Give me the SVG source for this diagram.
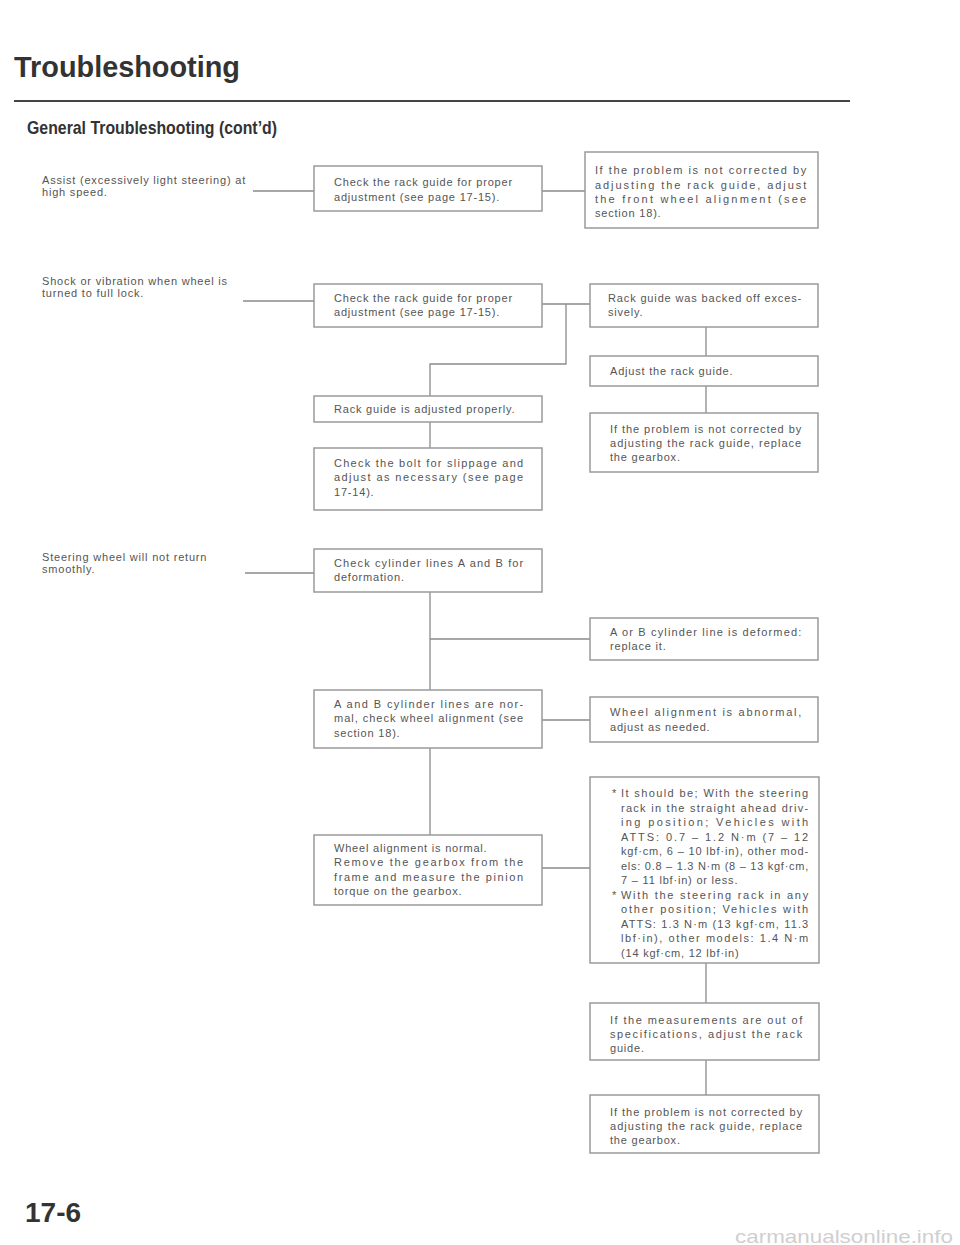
<svg xmlns="http://www.w3.org/2000/svg" width="960" height="1245" viewBox="0 0 960 1245">
<style>
.bg{fill:#ffffff}
.box{fill:#ffffff;stroke:#9a9a9a;stroke-width:1.5}
.t{font-family:"Liberation Sans",Arial,sans-serif;font-size:11px;letter-spacing:0.8px;fill:#555555}
.h{font-family:"Liberation Sans",Arial,sans-serif;font-weight:bold;fill:#333333}
.wire{fill:none;stroke:#8a8a8a;stroke-width:1.3}
.wm{font-family:"Liberation Sans",Arial,sans-serif;font-size:19px;fill:#cfcfcf}
</style>
<rect class="bg" x="0" y="0" width="960" height="1245"/>

<g id="header">
<text class="h" x="14" y="77" font-size="29" textLength="226" lengthAdjust="spacingAndGlyphs">Troubleshooting</text>
<line x1="14" y1="101" x2="850" y2="101" stroke="#444" stroke-width="2"/>
<text class="h" x="27" y="134" font-size="19" textLength="250" lengthAdjust="spacingAndGlyphs">General Troubleshooting (cont’d)</text>
</g>

<g id="connectors">
<path class="wire" d="M253,191 H314"/>
<path class="wire" d="M542,191 H585"/>
<path class="wire" d="M243,301 H314"/>
<path class="wire" d="M542,304 H590"/>
<path class="wire" d="M566,304 V364 H430 V396"/>
<path class="wire" d="M706,327 V356"/>
<path class="wire" d="M706,386 V413"/>
<path class="wire" d="M430,422 V448"/>
<path class="wire" d="M245,573 H314"/>
<path class="wire" d="M430,592 V690"/>
<path class="wire" d="M430,639 H590"/>
<path class="wire" d="M542,720 H590"/>
<path class="wire" d="M430,748 V835"/>
<path class="wire" d="M542,868 H590"/>
<path class="wire" d="M706,963 V1003"/>
<path class="wire" d="M706,1060 V1095"/>
</g>

<g id="sym1">
<text class="t" x="42" y="184">Assist (excessively light steering) at</text>
<text class="t" x="42" y="196">high speed.</text>
</g>
<g id="sym2">
<text class="t" x="42" y="285">Shock or vibration when wheel is</text>
<text class="t" x="42" y="297">turned to full lock.</text>
</g>
<g id="sym3">
<text class="t" x="42" y="561">Steering wheel will not return</text>
<text class="t" x="42" y="573">smoothly.</text>
</g>

<g id="a1">
<rect class="box" x="314" y="166" width="228" height="45"/>
<text class="t" x="334" y="186">Check the rack guide for proper</text>
<text class="t" x="334" y="201">adjustment (see page 17-15).</text>
</g>
<g id="a2">
<rect class="box" x="585" y="152" width="233" height="76"/>
<text class="t" x="595" y="174" textLength="212" lengthAdjust="spacing">If the problem is not corrected by</text>
<text class="t" x="595" y="189" textLength="212" lengthAdjust="spacing">adjusting the rack guide, adjust</text>
<text class="t" x="595" y="203" textLength="212" lengthAdjust="spacing">the front wheel alignment (see</text>
<text class="t" x="595" y="217">section 18).</text>
</g>

<g id="b1">
<rect class="box" x="314" y="284" width="228" height="43"/>
<text class="t" x="334" y="302">Check the rack guide for proper</text>
<text class="t" x="334" y="316">adjustment (see page 17-15).</text>
</g>
<g id="b2">
<rect class="box" x="590" y="284" width="228" height="43"/>
<text class="t" x="608" y="302" textLength="194" lengthAdjust="spacing">Rack guide was backed off exces-</text>
<text class="t" x="608" y="316">sively.</text>
</g>
<g id="b3">
<rect class="box" x="590" y="356" width="228" height="30"/>
<text class="t" x="610" y="375">Adjust the rack guide.</text>
</g>
<g id="b4">
<rect class="box" x="590" y="413" width="228" height="59"/>
<text class="t" x="610" y="433" textLength="192" lengthAdjust="spacing">If the problem is not corrected by</text>
<text class="t" x="610" y="447" textLength="192" lengthAdjust="spacing">adjusting the rack guide, replace</text>
<text class="t" x="610" y="461">the gearbox.</text>
</g>
<g id="b5">
<rect class="box" x="314" y="396" width="228" height="26"/>
<text class="t" x="334" y="413">Rack guide is adjusted properly.</text>
</g>
<g id="b6">
<rect class="box" x="314" y="448" width="228" height="62"/>
<text class="t" x="334" y="467" textLength="190" lengthAdjust="spacing">Check the bolt for slippage and</text>
<text class="t" x="334" y="481" textLength="190" lengthAdjust="spacing">adjust as necessary (see page</text>
<text class="t" x="334" y="496">17-14).</text>
</g>

<g id="c1">
<rect class="box" x="314" y="549" width="228" height="43"/>
<text class="t" x="334" y="567" textLength="190" lengthAdjust="spacing">Check cylinder lines A and B for</text>
<text class="t" x="334" y="581">deformation.</text>
</g>
<g id="c2">
<rect class="box" x="590" y="618" width="228" height="42"/>
<text class="t" x="610" y="636" textLength="192" lengthAdjust="spacing">A or B cylinder line is deformed:</text>
<text class="t" x="610" y="650">replace it.</text>
</g>
<g id="c3">
<rect class="box" x="314" y="690" width="228" height="58"/>
<text class="t" x="334" y="708" textLength="190" lengthAdjust="spacing">A and B cylinder lines are nor-</text>
<text class="t" x="334" y="722" textLength="190" lengthAdjust="spacing">mal, check wheel alignment (see</text>
<text class="t" x="334" y="737">section 18).</text>
</g>
<g id="c4">
<rect class="box" x="590" y="697" width="228" height="45"/>
<text class="t" x="610" y="716" textLength="192" lengthAdjust="spacing">Wheel alignment is abnormal,</text>
<text class="t" x="610" y="731">adjust as needed.</text>
</g>
<g id="c5">
<rect class="box" x="314" y="835" width="228" height="70"/>
<text class="t" x="334" y="852">Wheel alignment is normal.</text>
<text class="t" x="334" y="866" textLength="190" lengthAdjust="spacing">Remove the gearbox from the</text>
<text class="t" x="334" y="881" textLength="190" lengthAdjust="spacing">frame and measure the pinion</text>
<text class="t" x="334" y="895">torque on the gearbox.</text>
</g>
<g id="c6">
<rect class="box" x="590" y="777" width="229" height="186"/>
<text class="t" x="612" y="797">*</text>
<text class="t" x="621" y="797" textLength="188" lengthAdjust="spacing">It should be; With the steering</text>
<text class="t" x="621" y="811.5" textLength="188" lengthAdjust="spacing">rack in the straight ahead driv-</text>
<text class="t" x="621" y="826" textLength="188" lengthAdjust="spacing">ing position; Vehicles with</text>
<text class="t" x="621" y="840.5" textLength="188" lengthAdjust="spacing">ATTS: 0.7 – 1.2 N·m (7 – 12</text>
<text class="t" x="621" y="855" textLength="188" lengthAdjust="spacing">kgf·cm, 6 – 10 lbf·in), other mod-</text>
<text class="t" x="621" y="869.5" textLength="188" lengthAdjust="spacing">els: 0.8 – 1.3 N·m (8 – 13 kgf·cm,</text>
<text class="t" x="621" y="884">7 – 11 lbf·in) or less.</text>
<text class="t" x="612" y="898.5">*</text>
<text class="t" x="621" y="898.5" textLength="188" lengthAdjust="spacing">With the steering rack in any</text>
<text class="t" x="621" y="913" textLength="188" lengthAdjust="spacing">other position; Vehicles with</text>
<text class="t" x="621" y="927.5" textLength="188" lengthAdjust="spacing">ATTS: 1.3 N·m (13 kgf·cm, 11.3</text>
<text class="t" x="621" y="942" textLength="188" lengthAdjust="spacing">lbf·in), other models: 1.4 N·m</text>
<text class="t" x="621" y="956.5">(14 kgf·cm, 12 lbf·in)</text>
</g>
<g id="c7">
<rect class="box" x="590" y="1003" width="229" height="57"/>
<text class="t" x="610" y="1024" textLength="193" lengthAdjust="spacing">If the measurements are out of</text>
<text class="t" x="610" y="1038" textLength="193" lengthAdjust="spacing">specifications, adjust the rack</text>
<text class="t" x="610" y="1052">guide.</text>
</g>
<g id="c8">
<rect class="box" x="590" y="1095" width="229" height="58"/>
<text class="t" x="610" y="1116" textLength="193" lengthAdjust="spacing">If the problem is not corrected by</text>
<text class="t" x="610" y="1130" textLength="193" lengthAdjust="spacing">adjusting the rack guide, replace</text>
<text class="t" x="610" y="1144">the gearbox.</text>
</g>

<g id="footer">
<text class="h" x="25" y="1222" font-size="28">17-6</text>
<text class="wm" x="735" y="1243" textLength="218" lengthAdjust="spacingAndGlyphs">carmanualsonline.info</text>
</g>
</svg>
